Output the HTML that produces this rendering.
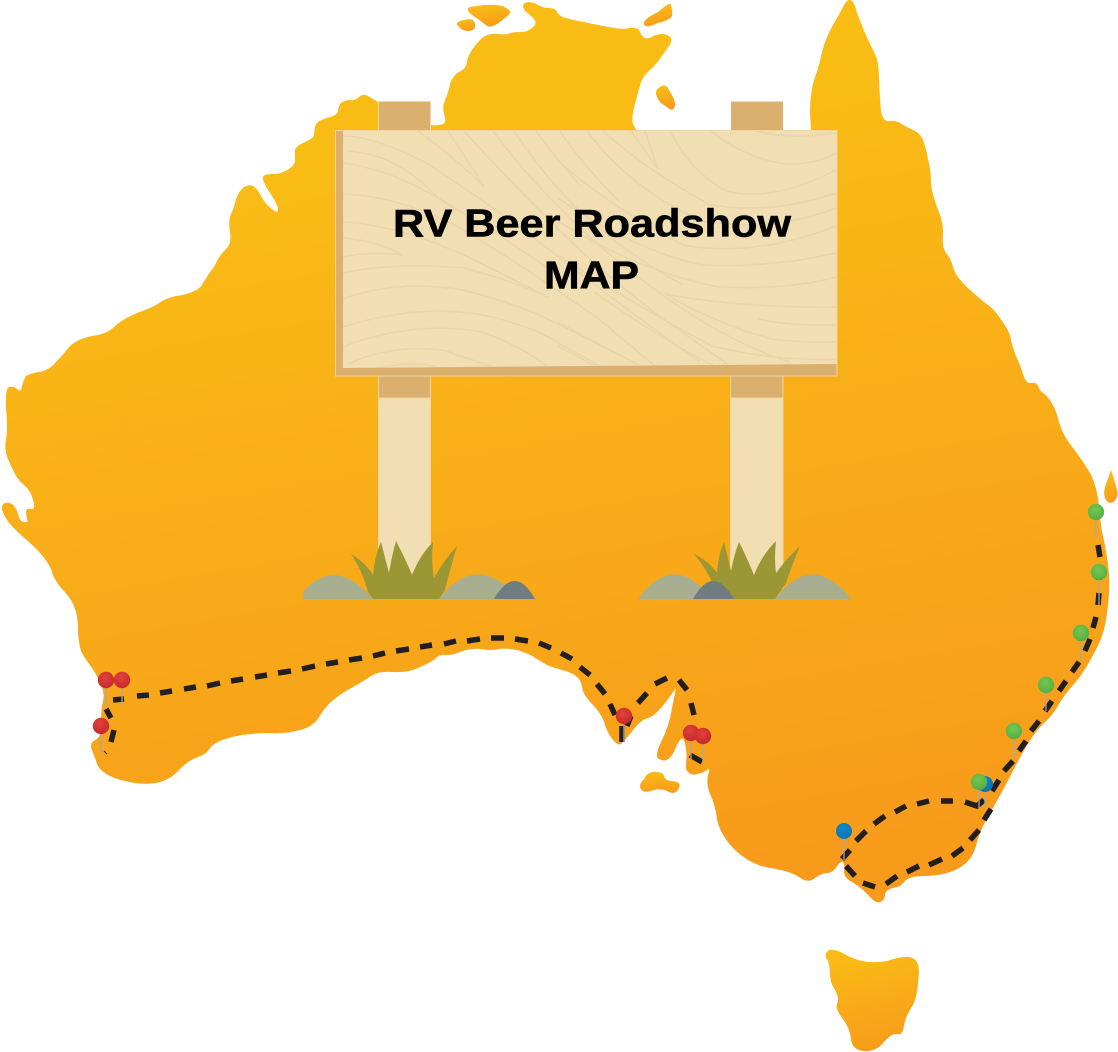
<!DOCTYPE html>
<html><head><meta charset="utf-8"><style>html,body{margin:0;padding:0;background:#fff}svg{display:block}</style></head><body>
<svg width="1118" height="1052" viewBox="0 0 1118 1052" xmlns="http://www.w3.org/2000/svg">
<defs>
<linearGradient id="g" gradientUnits="userSpaceOnUse" x1="520" y1="130" x2="650" y2="880"><stop offset="0" stop-color="#F9BC15"/><stop offset="1" stop-color="#F89B1B"/></linearGradient>
<linearGradient id="i" x1="0.4" y1="0" x2="0.6" y2="1"><stop offset="0" stop-color="#F9BC15"/><stop offset="1" stop-color="#F89B1B"/></linearGradient>
<radialGradient id="r" cx="0.45" cy="0.35" r="0.7"><stop offset="0" stop-color="#E2423C"/><stop offset="1" stop-color="#C4272A"/></radialGradient>
<radialGradient id="n" cx="0.45" cy="0.35" r="0.7"><stop offset="0" stop-color="#76C653"/><stop offset="1" stop-color="#52AD40"/></radialGradient>
<radialGradient id="b" cx="0.45" cy="0.35" r="0.7"><stop offset="0" stop-color="#1089CC"/><stop offset="1" stop-color="#0A72B0"/></radialGradient>
<clipPath id="bc"><path d="M343 130H837V364L343 368Z"/></clipPath>
</defs>

<g>
<path fill="url(#g)" d="M378 102L368 96Q363 93 359 97Q355 101 350 100Q345 100 341 103Q338 107 338 111Q338 115 327 118Q316 121 315 127Q314 133 314 135Q314 138 305 142Q296 146 295 150Q295 154 295 159Q296 164 289 169Q282 174 273 174Q264 174 263 177Q262 181 270 193Q278 205 278 210Q278 214 272 209Q266 205 261 196Q257 188 253 186Q250 184 244 187Q239 191 236 199Q234 208 231 214Q228 221 230 232Q232 243 226 249Q220 255 217 261Q214 268 210 272Q207 277 203 283Q200 289 194 291Q189 294 176 296Q164 299 159 303Q154 307 137 313Q121 320 114 327Q107 334 92 336Q77 339 69 347Q62 356 55 363Q48 371 38 372Q29 374 26 376Q24 379 22 386Q21 393 17 389Q14 386 9 387Q5 389 6 409Q8 429 6 439Q4 450 8 459Q12 468 15 474Q18 480 24 485Q31 491 33 500Q36 510 31 509Q27 508 26 511Q26 515 27 519Q29 523 24 522Q20 522 18 514Q16 507 12 504Q9 502 5 503Q1 505 2 510Q4 515 7 520Q11 526 21 535Q32 544 41 554Q50 565 52 572Q54 580 63 590Q73 601 75 609Q78 617 78 632Q79 647 82 653Q86 660 92 668Q98 677 101 685Q105 694 103 701Q101 709 101 723Q102 737 95 740Q89 744 92 750Q95 757 97 764Q100 771 110 776Q121 781 135 783Q150 785 160 782Q171 779 180 769Q189 760 198 757Q207 754 210 748Q214 742 232 737Q250 733 268 733Q286 734 300 730Q314 727 321 714Q328 702 346 691Q364 681 371 676Q378 671 393 672Q409 673 420 667Q432 662 436 658Q441 654 445 655Q450 656 460 652Q471 648 481 649Q491 651 499 649Q507 648 517 650Q528 653 537 659Q546 665 552 667Q558 669 566 671Q574 674 577 677Q581 680 582 687Q583 695 593 705Q603 716 605 725Q608 734 613 740Q619 747 622 743Q626 739 634 729Q642 719 648 718Q654 717 665 703L676 688L672 708Q669 727 661 742Q654 757 659 759Q665 762 668 759Q672 757 676 747Q681 737 683 739Q685 741 686 749Q687 757 686 763Q685 769 688 772Q692 776 697 774Q703 773 707 770Q711 767 708 775Q706 784 710 794Q715 804 717 819Q720 835 735 850Q751 865 770 868Q790 871 799 877Q808 884 815 878Q822 873 827 873Q833 873 837 866Q842 860 843 862Q845 865 844 871Q844 878 852 882Q861 887 868 895Q876 904 880 902Q885 900 885 895Q885 890 893 888Q901 887 905 881Q910 876 923 876Q936 876 947 873Q958 870 966 863Q974 856 977 842Q981 828 990 813Q999 798 1015 767Q1031 736 1042 725Q1054 714 1059 704Q1065 694 1074 684Q1083 674 1092 657Q1102 640 1105 625Q1108 610 1109 593Q1110 576 1107 557Q1104 539 1102 532Q1101 526 1099 506Q1097 486 1090 473Q1083 461 1073 448Q1063 436 1059 422Q1056 409 1051 402Q1047 395 1043 393Q1040 391 1038 386Q1036 382 1031 383Q1026 384 1023 374Q1020 364 1016 356Q1013 349 1011 340Q1010 332 1002 321Q995 310 988 305Q981 300 968 288Q956 277 953 267Q951 258 946 253Q942 248 943 235Q944 223 937 207Q931 191 931 181Q931 171 928 159Q926 148 923 140Q920 133 913 130Q906 127 900 123Q895 120 889 121Q883 122 881 111Q880 101 879 80Q879 60 874 52Q870 44 865 33Q861 23 857 13Q854 0 850 0Q847 -1 843 7Q840 13 833 25Q826 37 822 52Q819 67 814 80Q810 94 810 112L811 131L637 131L633 124Q631 119 635 104Q639 89 641 82Q644 75 650 70Q656 65 664 53Q673 42 671 38Q669 35 663 34Q658 34 653 36Q649 39 645 38Q642 37 640 32Q639 27 630 28Q622 30 609 27Q597 25 584 22Q572 20 566 18Q560 17 557 12Q555 8 549 8Q543 8 538 5Q534 2 528 2Q523 3 523 6Q523 10 531 16Q539 23 533 27Q528 32 521 32Q514 32 510 33Q507 35 499 34Q491 33 485 36Q480 39 474 47Q468 55 467 62Q466 69 459 72Q453 75 450 84Q448 94 445 100Q442 107 444 114Q447 122 443 124Q439 126 430 125L430 102Z"/>
<path fill="url(#i)" d="M484 5Q501 4 506 8Q514 12 506 17Q493 29 487 26Q481 21 475 17Q464 10 470 7Z"/>
<path fill="url(#i)" d="M464 20Q474 17 475 24Q476 31 468 31Q462 31 458 26Q454 22 464 20Z"/>
<path fill="url(#i)" d="M658 12Q672 0 671 6Q673 12 672 16Q670 20 658 23Q645 29 644 24Q642 20 658 12Z"/>
<path fill="url(#i)" d="M670 92Q676 101 675 106Q673 113 667 107Q659 103 657 97Q654 90 660 87Q666 82 670 92Z"/>
<path fill="url(#i)" d="M1111 470Q1115 482 1117 490Q1119 498 1113 502Q1108 505 1105 498Q1103 492 1106 484Z"/>
<path fill="url(#i)" d="M656 772Q663 772 664 776Q665 781 672 781Q682 782 679 788Q676 795 669 792Q662 788 654 790Q643 794 641 789Q638 785 644 779Q648 771 656 772Z"/>
<path fill="url(#i)" d="M828 951Q832 947 848 956Q865 965 887 961Q908 954 914 959Q921 963 918 982Q917 1000 911 1008Q906 1016 904 1025Q903 1036 897 1034Q892 1033 884 1042Q876 1052 864 1051Q852 1050 851 1039Q850 1029 843 1019Q835 1009 837 1004Q840 999 835 990Q830 982 830 975Q830 969 828 961Q823 955 828 951Z"/>
</g>

<g stroke="#F0D6A2" stroke-width="1">
<rect x="378.500" y="101.500" width="52" height="29" fill="#DBAF6D"/>
<rect x="731" y="101.500" width="52" height="29" fill="#DBAF6D" stroke="none"/>
<rect x="378.500" y="376" width="52" height="22" fill="#DBAF6D"/>
<rect x="730.500" y="376" width="52.500" height="22" fill="#DBAF6D"/>
<rect x="378.500" y="398" width="52" height="190" fill="#F1DEB2"/>
<rect x="730.500" y="398" width="52.500" height="190" fill="#F1DEB2"/>
<rect x="335.500" y="130.500" width="501.500" height="245.500" fill="#DBAF6D"/>
</g>
<path d="M343 131H836.500V364L343 368Z" fill="#F1DEB2"/>

<g clip-path="url(#bc)" fill="none" stroke="#E8D5A9" stroke-width="1.500">
<path d="M343 136Q375 136 428 164Q500 211 560 258Q640 320 700 362"/>
<path d="M348 151Q393 154 428 188Q445 205 460 211"/>
<path d="M343 163Q393 170 443 201Q500 235 548 268"/>
<path d="M343 194Q400 196 460 228Q530 270 600 320Q630 345 655 366"/>
<path d="M343 222Q393 224 464 255L548 297"/>
<path d="M343 238Q375 240 403 255Q371 251 343 257"/>
<path d="M343 273Q393 262 464 268Q510 280 548 297"/>
<path d="M343 299Q393 280 457 289Q510 300 560 325Q600 345 640 366"/>
<path d="M343 327Q428 300 500 319Q540 330 560 344L600 366"/>
<path d="M343 347Q411 320 482 332Q520 345 548 367"/>
<path d="M348 364Q393 343 446 351L493 367"/>
<path d="M371 369Q411 360 436 367"/>
<path d="M418 131Q450 154 484 186L448 131"/>
<path d="M464 131Q500 171 560 231Q610 280 665 320Q700 345 730 366"/>
<path d="M493 131Q525 174 560 208Q620 270 700 320Q750 350 790 362"/>
<path d="M514 131Q536 164 560 191Q610 245 683 285"/>
<path d="M536 131Q560 164 580 185"/>
<path d="M560 131Q579 161 619 201"/>
<path d="M603 131Q647 171 711 205Q772 215 836 193"/>
<path d="M670 131Q690 171 726 191Q772 203 836 170"/>
<path d="M711 131Q744 158 786 164Q815 165 836 153"/>
<path d="M756 131Q790 140 836 133"/>
<path d="M631 131L658 169L645 131"/>
<path d="M587 131Q629 188 701 221Q772 233 836 208"/>
<path d="M558 161Q612 208 683 245Q754 258 836 226"/>
<path d="M558 198Q629 248 701 265Q772 268 836 253"/>
<path d="M558 221Q640 272 719 287Q790 290 836 277"/>
<path d="M665 294Q740 308 836 307"/>
<path d="M665 294Q719 325 772 339Q800 343 836 342"/>
<path d="M758 319Q790 326 836 325"/>
<path d="M558 255Q629 302 712 346Q780 362 836 359"/>
<path d="M594 292Q665 342 715 366"/>
<path d="M558 322L640 366"/>
<path d="M558 346L595 366"/>
</g>

<!-- grass left -->
<path d="M303 599V592Q335 555 373 599Z" fill="#A7AF90"/>
<path d="M439 599Q476 550 520 599Z" fill="#A7AF90"/>
<path d="M494 599Q515 563 535 599Z" fill="#6E7E7E"/>
<path d="M373 599L368 592Q362 570 351 554Q366 563 373 575Q375 555 381 542Q385 558 389 573Q392 555 396 541Q406 560 412 575Q420 555 433 542Q431 562 434 578Q444 560 457 546Q450 570 445 590L439 599Z" fill="#9B9735"/>
<!-- grass right -->
<path d="M638 599Q674 550 712 599Z" fill="#A7AF90"/>
<path d="M775 599Q812 550 851 599Z" fill="#A7AF90"/>
<path d="M720 599Q708 570 694 554Q710 562 717 573Q718 555 724 542Q728 558 731 571Q734 555 739 542Q748 560 754 575Q762 555 776 541Q774 558 776 573Q787 558 800 546Q792 565 786 583L775 599Z" fill="#9B9735"/>
<path d="M693 599Q713 563 734 599Z" fill="#6E7E7E"/>

<text x="393" y="236.500" font-family="'Liberation Sans',sans-serif" font-weight="700" font-size="39" fill="#000" stroke="#000" stroke-width="0.600" textLength="398" lengthAdjust="spacingAndGlyphs">RV Beer Roadshow</text>
<text x="544" y="288.500" font-family="'Liberation Sans',sans-serif" font-weight="700" font-size="39" fill="#000" stroke="#000" stroke-width="0.600" textLength="95" lengthAdjust="spacingAndGlyphs">MAP</text>

<!-- route -->
<path fill="none" stroke="#231F20" stroke-width="5.500" d="M113 700L124 699M137 696L149 695M160 693L172 691M184 689L196 687M207 686L220 683M231 681L243 679M255 677L267 675M278 673L291 671M302 669L315 666M326 664L338 662M349 660L362 658M373 656L385 653M396 651L409 649M420 647L432 645M444 644L456 641M467 641L480 639M491 638L504 638M515 639L528 641M539 643L551 648M561 653L572 659M580 667L590 675M597 684L605 694M610 704L615 715M631 716L627 726M622 726L622 742M638 703L647 693M655 684L667 678M679 680L687 690M691 703L694 715M690 755L702 762M106 709L111 718M114 730L111 742M1098 545L1100 557M1099 578L1099 580M1099 593L1098 605M1096 617L1093 628M1090 639L1085 651M1079 662L1072 672M1066 681L1059 691M1052 701L1045 711M1039 721L1031 731M1026 741L1019 751M1013 761L1004 771M999 780L992 791M991 809L984 820M979 830L970 840M963 848L952 856M942 859L929 865M919 866L907 872M897 876L886 884M875 887L863 883M855 876L846 866M850 850L842 859M866 831L856 841M885 816L874 824M906 806L895 812M929 801L917 804M953 801L941 801M965 802L977 806L984 800"/>
<path d="M104 751L107 754" stroke="#231F20" stroke-width="1"/>

<!-- pins -->
<g stroke="#A9A9A6" stroke-width="1.300">
<path d="M106 680V707M122 680V706M101 726V753M624 716V742M691 733V760M703 736V762M844 831V860M985 784V808M979 782V808M1014 731V758M1046 685V711M1081 633V660M1099 572V605M1096 512V538"/>
</g>
<g>
<circle cx="985" cy="784" r="8" fill="url(#b)"/>
<circle cx="844" cy="831" r="8" fill="url(#b)"/>
<circle cx="106" cy="680" r="8.200" fill="url(#r)"/>
<circle cx="122" cy="680" r="8.200" fill="url(#r)"/>
<circle cx="101" cy="726" r="8.200" fill="url(#r)"/>
<circle cx="624" cy="716" r="8.200" fill="url(#r)"/>
<circle cx="691" cy="733" r="8.200" fill="url(#r)"/>
<circle cx="703" cy="736" r="8.200" fill="url(#r)"/>
<circle cx="979" cy="782" r="8.200" fill="url(#n)"/>
<circle cx="1014" cy="731" r="8.200" fill="url(#n)"/>
<circle cx="1046" cy="685" r="8.200" fill="url(#n)"/>
<circle cx="1081" cy="633" r="8.200" fill="url(#n)"/>
<circle cx="1099" cy="572" r="8.200" fill="url(#n)"/>
<circle cx="1096" cy="512" r="8.200" fill="url(#n)"/>
</g>
</svg>
</body></html>
